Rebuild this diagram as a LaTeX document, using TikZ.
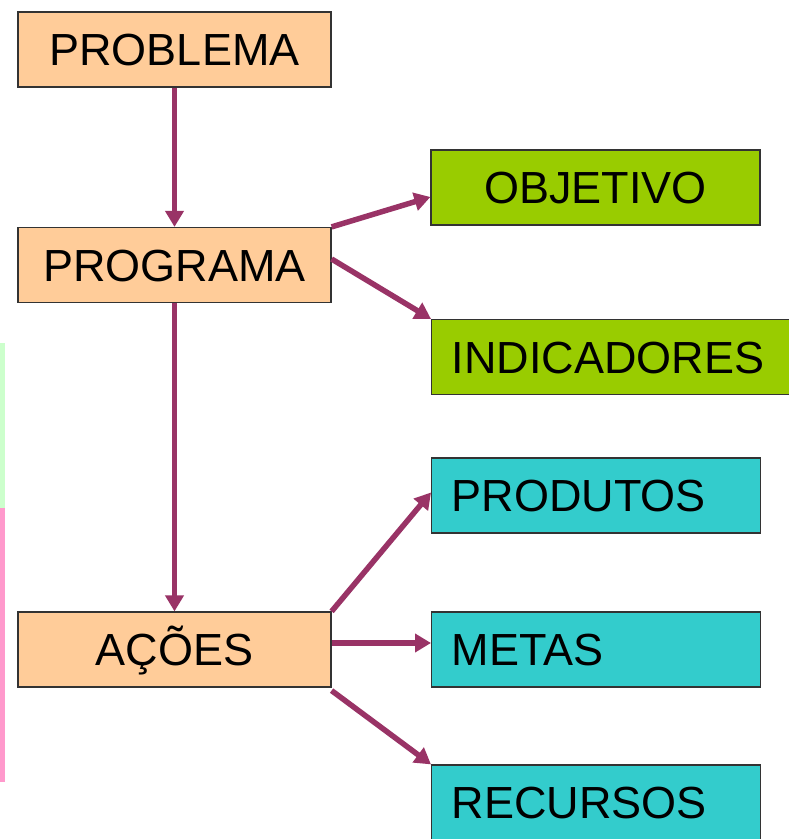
\documentclass[tikz,border=0pt]{standalone}
\usepackage{fontspec}
\setmainfont{Liberation Sans}
\usetikzlibrary{arrows.meta}
\definecolor{orangefill}{HTML}{FFCC99}
\definecolor{greenfill}{HTML}{99CC00}
\definecolor{cyanfill}{HTML}{33CCCC}
\definecolor{plum}{HTML}{993366}
\definecolor{stripgreen}{HTML}{CCFFCC}
\definecolor{strippink}{HTML}{FF99CC}
\tikzset{
  box/.style={draw=black!80, line width=1.2pt, rectangle, inner sep=0pt,
    minimum height=75pt, font=\fontsize{45}{54}\selectfont,
    text height=32.2pt, text depth=0pt},
  orangebox/.style={box, fill=orangefill, minimum width=313pt},
  greenbox/.style={box, fill=greenfill, minimum width=329pt},
  leftbox/.style={box, inner xsep=20pt, text width=#1, align=left},
  link/.style={draw=plum, line width=5.5pt, -{Triangle[length=16pt,width=18pt]}}
}
\begin{document}
\begin{tikzpicture}[x=1pt,y=1pt]
\useasboundingbox (0,0) rectangle (789,839);
\clip (0,0) rectangle (789,839);
\fill[white] (0,0) rectangle (789,839);
% left strip
\fill[stripgreen] (0,331) rectangle (5,496);
\fill[strippink] (0,57) rectangle (5,331);
% left column
\node[orangebox] (pb) at (174.5,789.5) {PROBLEMA};
\node[orangebox] (pg) at (174.5,574) {PROGRAMA};
\node[orangebox] (ac) at (174.5,189.5) {AÇÕES};
% right column
\node[greenbox] (ob) at (595.5,651.5) {OBJETIVO};
\node[leftbox=334pt, fill=greenfill, anchor=west] (in) at (431,482) {INDICADORES};
\node[leftbox=289pt, fill=cyanfill, anchor=west] (pr) at (431,343.5) {PRODUTOS};
\node[leftbox=289pt, fill=cyanfill, anchor=west] (me) at (431,189.5) {METAS};
\node[leftbox=289pt, fill=cyanfill, anchor=west] (rc) at (431,36.5) {RECURSOS};
% connectors
\draw[link] (pb.south) -- (pg.north);
\draw[link] (pg.south) -- (ac.north);
\draw[link] (pg.north east) -- ([yshift=-9.5pt]ob.west);
\draw[link] ([yshift=6pt]pg.east) -- (in.north west);
\draw[link] (ac.north east) -- ([yshift=3pt]pr.west);
\draw[link] ([yshift=6.5pt]ac.east) -- ([yshift=6.5pt]me.west);
\draw[link] ([yshift=-3pt]ac.south east) -- (rc.north west);
\end{tikzpicture}
\end{document}
